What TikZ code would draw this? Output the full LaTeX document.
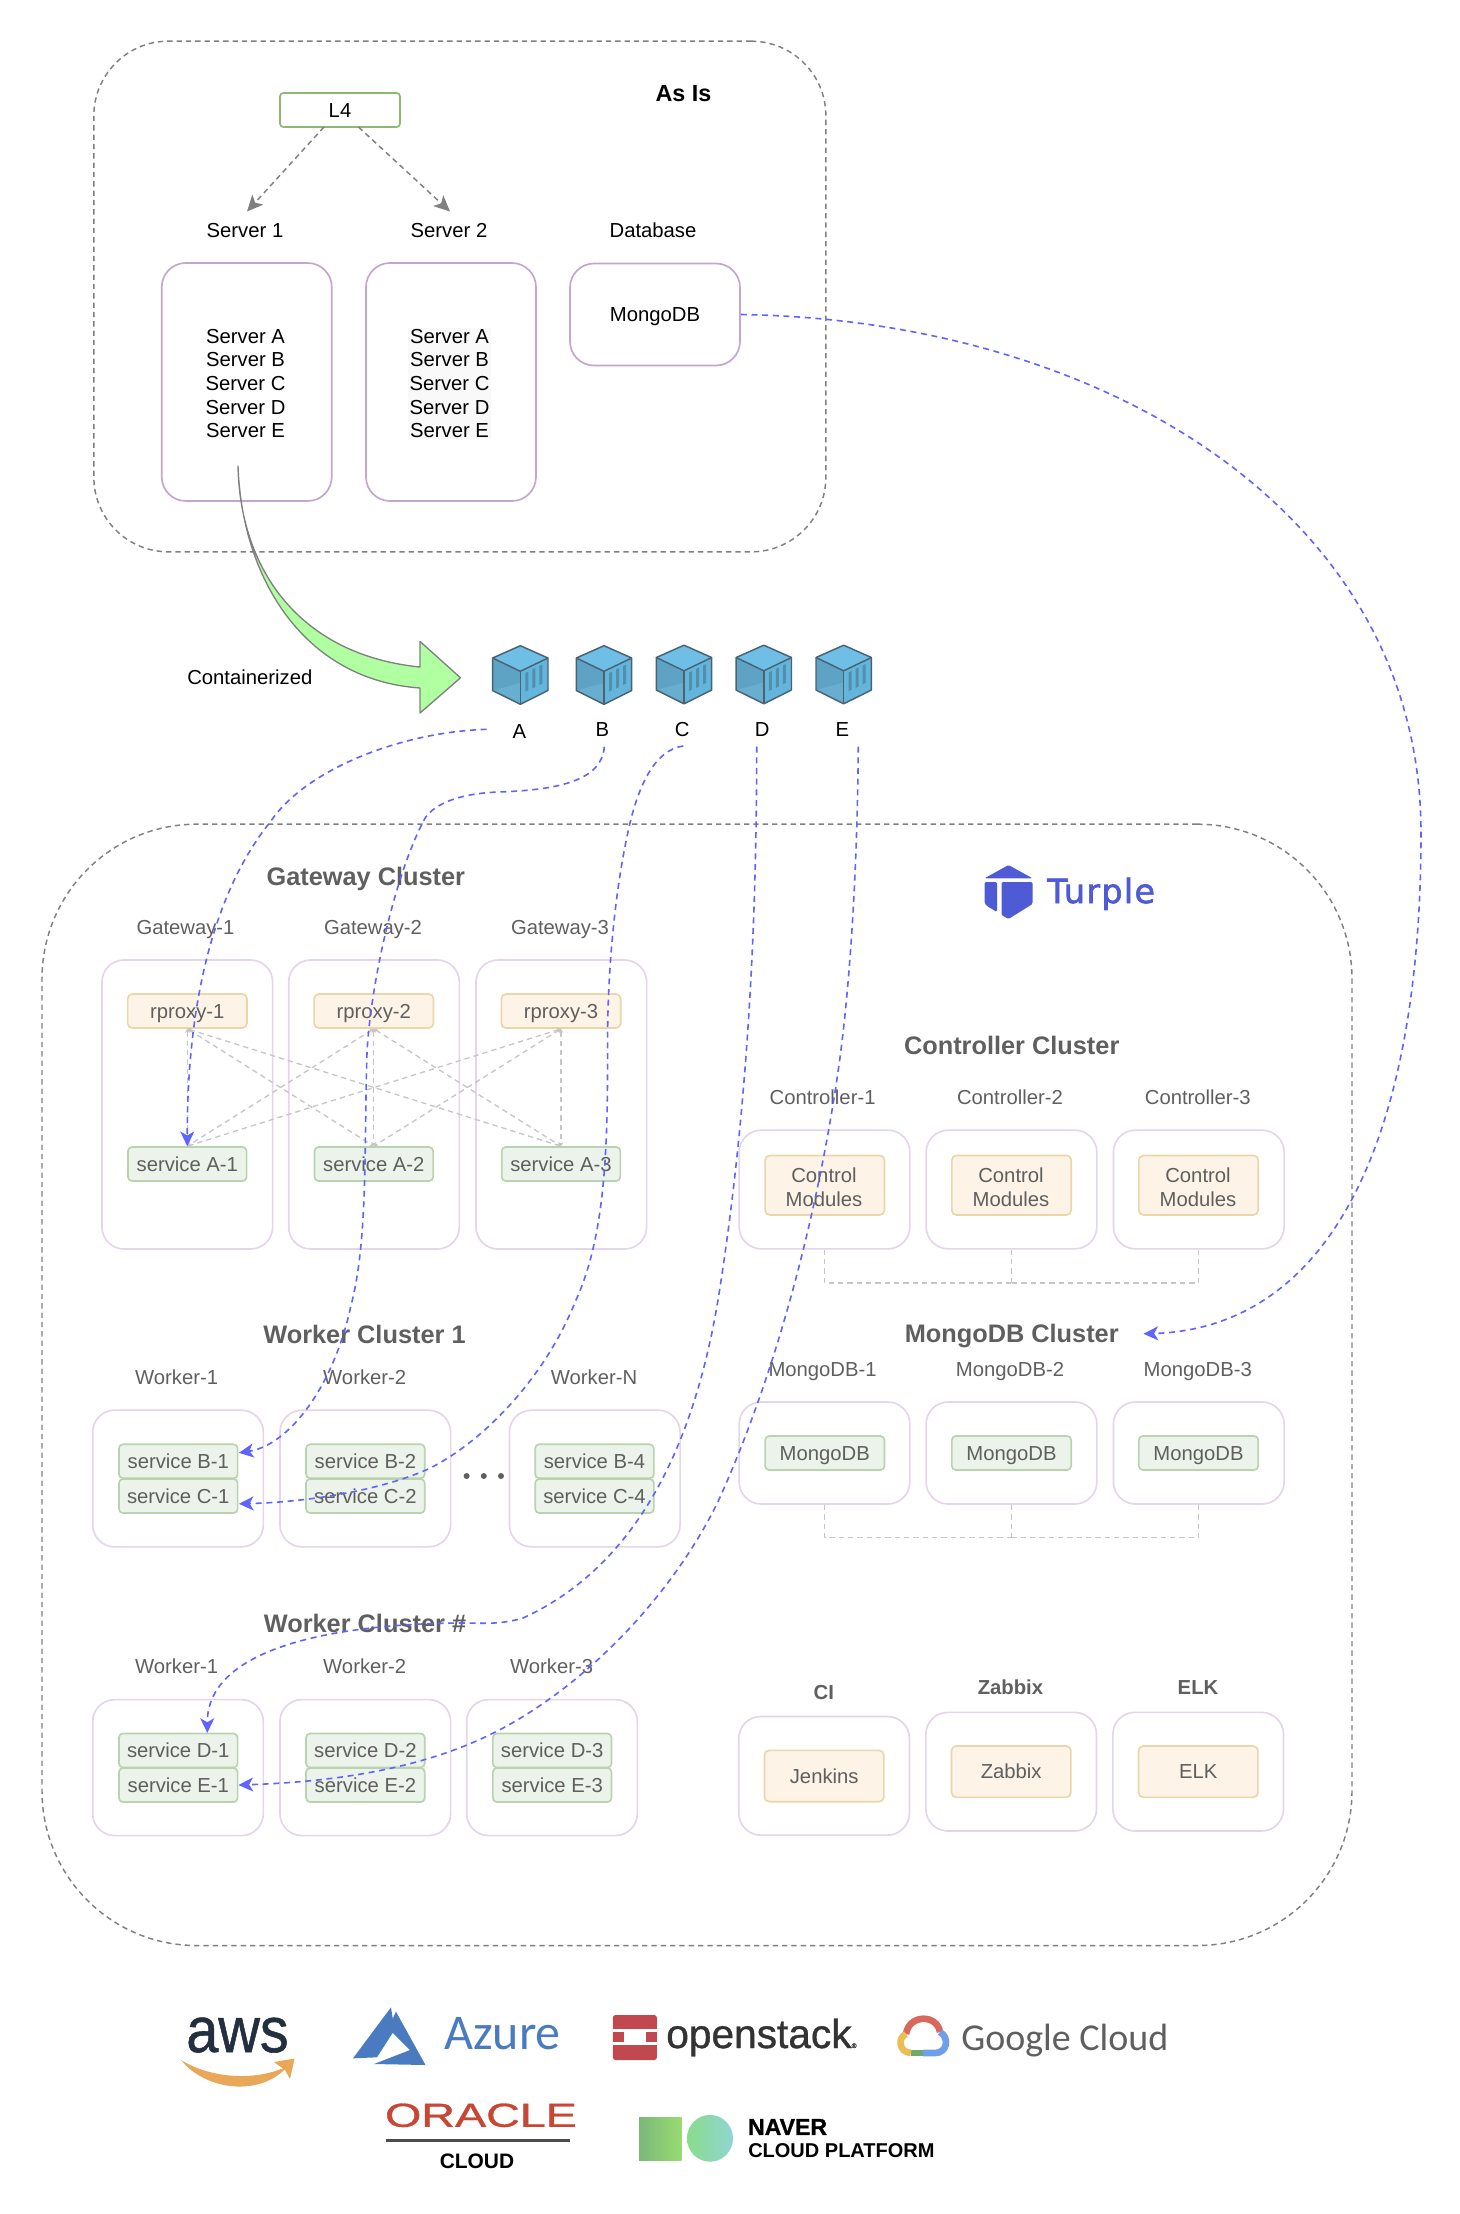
\documentclass[tikz,border=0pt]{standalone}
\usepackage{fontspec}
\usepackage{graphicx}
\setmainfont{Liberation Sans}
\newfontfamily\cloudfont{Carlito}
\newfontfamily\turplefont[FakeBold=2,LetterSpace=4]{DejaVu Sans}
\newfontfamily\heavyfont[FakeBold=0.9]{Liberation Sans}
\newfontfamily\blackfont[FakeBold=1.2]{Liberation Sans Bold}
\usetikzlibrary{arrows.meta}
\definecolor{captionGray}{HTML}{5F5F5F}
\definecolor{frameGray}{HTML}{808080}
\definecolor{meshGray}{HTML}{C6C6C6}
\definecolor{linkBlue}{HTML}{5F63FF}
\definecolor{logoBlue}{HTML}{4F5BD5}
\definecolor{azureBlue}{HTML}{4A7BC0}
\definecolor{serverPurple}{HTML}{C3A5CF}
\definecolor{hostPurple}{HTML}{E4D5E8}
\definecolor{amberEdge}{HTML}{EAD6A8}
\definecolor{amberFill}{HTML}{FDF3E7}
\definecolor{mintEdge}{HTML}{BAD3AE}
\definecolor{mintFill}{HTML}{EBF3EA}
\definecolor{lbGreen}{HTML}{8DB870}
\definecolor{arrowGreen}{HTML}{B0FFA0}
\definecolor{cubeTop}{HTML}{6EBEE6}
\definecolor{cubeLeft}{HTML}{5FA3C4}
\definecolor{cubeShade}{HTML}{68AECF}
\definecolor{cubeRight}{HTML}{64B5DC}
\definecolor{cubeEdge}{HTML}{4A6272}
\definecolor{cubeSlot}{HTML}{5090AE}
\definecolor{awsInk}{HTML}{232F3E}
\definecolor{awsSmile}{HTML}{E8A858}
\definecolor{stackRed}{HTML}{C1484F}
\definecolor{oracleRed}{HTML}{C74634}
\definecolor{gRed}{HTML}{D9675B}
\definecolor{gBlue}{HTML}{6F9FEA}
\definecolor{gGreen}{HTML}{6FA86B}
\definecolor{gYellow}{HTML}{EBBD55}
\newcommand{\capsize}{\fontsize{15.2}{17.8}\selectfont}
\tikzset{
  oneLine/.style={text height=13.75pt,text depth=3.2pt,inner ysep=0pt},
  outerBox/.style={draw=frameGray,line width=1.1pt,dash pattern=on 4pt off 3pt,rounded corners=56pt},
  serverBox/.style={draw=serverPurple,line width=1.25pt,rounded corners=18pt,minimum width=127.5pt,font=\capsize,oneLine},
  hostBox/.style={draw=hostPurple,line width=1.25pt,rounded corners=16.5pt,minimum width=128pt},
  amberBox/.style={draw=amberEdge,fill=amberFill,line width=1.25pt,rounded corners=3.5pt,minimum width=89.5pt,font=\capsize,text=captionGray,oneLine},
  stackText/.style={font=\capsize,text=captionGray,align=center,inner sep=0pt},
  mintBox/.style={draw=mintEdge,fill=mintFill,line width=1.25pt,rounded corners=3pt,minimum width=89pt,minimum height=25.5pt,font=\capsize,text=captionGray,oneLine},
  captionText/.style={font=\capsize,text=captionGray,oneLine},
  blackText/.style={font=\capsize,oneLine},
  listText/.style={font=\capsize,align=center,inner sep=1pt},
  clusterTitle/.style={font=\fontsize{19}{22}\selectfont\bfseries,text=captionGray,text height=17.2pt,text depth=4pt,inner ysep=0pt},
  smallTitle/.style={font=\capsize\bfseries,text=captionGray,oneLine},
  blueLink/.style={draw=linkBlue,line width=1.2pt,dash pattern=on 4.5pt off 3.5pt,-{Stealth[length=11pt,width=10.5pt,inset=3pt]}},
  meshLink/.style={draw=meshGray,line width=1pt,dash pattern=on 4pt off 3pt,{Stealth[length=3pt,width=3.5pt]}-{Stealth[length=3pt,width=3.5pt]}},
  busLink/.style={draw=meshGray,line width=1.1pt,dash pattern=on 4pt off 3pt},
  lbLink/.style={draw=frameGray,line width=1.1pt,dash pattern=on 4pt off 3pt,-{Stealth[length=12pt,width=11pt,inset=3pt]}},
  cube/.pic={
    \begin{scope}[yscale=-1]
    \fill[cubeTop] (0,-29.3) -- (27.7,-17) -- (0,-3.7) -- (-27.7,-17) -- cycle;
    \fill[cubeLeft] (-27.7,-17) -- (0,-3.7) -- (0,29.3) -- (-27.7,15.5) -- cycle;
    \fill[cubeShade] (0,8) -- (0,29.3) -- (-27.7,15.5) -- cycle;
    \fill[cubeRight] (0,-3.7) -- (27.7,-17) -- (27.7,15.5) -- (0,29.3) -- cycle;
    \draw[line width=1.1pt,draw=cubeEdge,line join=round] (0,-29.3) -- (27.7,-17) -- (27.7,15.5) -- (0,29.3) -- (-27.7,15.5) -- (-27.7,-17) -- cycle;
    \draw[line width=1.1pt,draw=cubeEdge,line join=round] (-27.7,-17) -- (0,-3.7) -- (27.7,-17);
    \draw[line width=1.1pt,draw=cubeEdge] (0,-3.7) -- (0,29.3);
    \fill[cubeSlot] (5,-2) -- (8,-3.5) -- (8,15) -- (5,16.5) -- cycle;
    \fill[cubeSlot] (12,-5.5) -- (15,-7) -- (15,12) -- (12,13.5) -- cycle;
    \fill[cubeSlot] (19,-9) -- (22,-10.5) -- (22,8.5) -- (19,10) -- cycle;
    \end{scope}
  }
}
\begin{document}
\begin{tikzpicture}[x=0.75pt,y=0.75pt,yscale=-1,xscale=1]
\useasboundingbox (0,0) rectangle (1460,2214);

% As Is region
\node[outerBox,minimum width=549pt,minimum height=383pt] (asIsRegion) at (459.85,296.5) {};
\node[font=\fontsize{17.5}{20}\selectfont\bfseries] (asIsTitle) at (683.5,94) {As Is};
\node[draw=lbGreen,line width=1.25pt,rounded corners=2.5pt,minimum width=90pt,minimum height=25.5pt,font=\capsize,oneLine] (loadBalancer) at (340,110) {L4};
\node[blackText] (server1Label) at (245,230.5) {Server 1};
\node[blackText] (server2Label) at (449,230.5) {Server 2};
\node[blackText] (dbLabel) at (653,230.5) {Database};
\node[serverBox,minimum height=178.5pt] (server1Box) at (246.75,382) {};
\node[listText] (server1Text) at (245.5,383.5) {Server A\\Server B\\Server C\\Server D\\Server E};
\node[serverBox,minimum height=178.5pt] (server2Box) at (451,382) {};
\node[listText,fill=gray!5!white] (server2Text) at (449.5,383.5) {Server A\\Server B\\Server C\\Server D\\Server E};
\node[serverBox,minimum height=76.5pt] (dbBox) at (655,314.5) {MongoDB};
\coordinate (toServer1) at (247,211.5);
\coordinate (toServer2) at (450,211.5);
\draw[lbLink] (324,127) -- (toServer1);
\draw[lbLink] (358.5,127) -- (toServer2);

% Containerized arrow
\draw[draw=frameGray,fill=arrowGreen,line width=1pt,line join=round] (238,466) .. controls (240,570) and (300,655) .. (420,667) -- (420,641.4) -- (460.5,677.8) -- (420,713) -- (420,688) .. controls (305,680) and (242,580) .. (238,466) -- cycle;
\node[blackText] (containerizedText) at (249.8,677) {Containerized};

% Containers
\pic (cubeA) at (520.3,675) {cube};
\pic (cubeB) at (604,675) {cube};
\pic (cubeC) at (684,674.5) {cube};
\pic (cubeD) at (763.8,674.5) {cube};
\pic (cubeE) at (843.7,674.5) {cube};
\node[blackText] (labelA) at (519.3,731) {A};
\node[blackText] (labelB) at (602.3,729) {B};
\node[blackText] (labelC) at (682.3,729) {C};
\node[blackText] (labelD) at (762.3,729) {D};
\node[blackText] (labelE) at (842.3,729) {E};
\coordinate (fromA) at (486.7,729.3);
\coordinate (fromB) at (604.3,746.7);
\coordinate (fromC) at (683.3,746);
\coordinate (fromD) at (756.7,746.7);
\coordinate (fromE) at (858.3,746.7);

% Turple region
\node[outerBox,rounded corners=116pt,minimum width=982.5pt,minimum height=841pt] (turpleRegion) at (697,1384.85) {};
\fill[logoBlue,rounded corners=1pt] (1008.5,865) -- (1032.5,878.3) -- (984.5,878.3) -- cycle;
\fill[logoBlue,rounded corners=1pt] (984.5,882) -- (997,882) -- (997,912) -- (987,906) -- (984.5,903) -- cycle;
\fill[logoBlue,rounded corners=1pt] (1001.5,882) -- (1032.5,882) -- (1032.5,904) -- (1008.5,919) -- (1001.5,915) -- cycle;
\node[font=\fontsize{25}{28}\turplefont,text=logoBlue,anchor=base west,inner sep=0pt] (turpleName) at (1047,903) {Turple};

% Gateway Cluster
\node[clusterTitle] (gatewayTitle) at (365.8,876.5) {Gateway Cluster};
\node[captionText] (gateway1Label) at (185.5,927) {Gateway-1};
\node[captionText] (gateway2Label) at (373,927) {Gateway-2};
\node[captionText] (gateway3Label) at (560,927) {Gateway-3};
\node[hostBox,minimum height=216.75pt] (gateway1) at (187.3,1104.5) {};
\node[hostBox,minimum height=216.75pt] (gateway2) at (374,1104.5) {};
\node[hostBox,minimum height=216.75pt] (gateway3) at (561.3,1104.5) {};
\node[amberBox,minimum height=25.5pt] (rproxy1) at (187.3,1011) {rproxy-1};
\node[amberBox,minimum height=25.5pt] (rproxy2) at (373.8,1011) {rproxy-2};
\node[amberBox,minimum height=25.5pt] (rproxy3) at (561,1011) {rproxy-3};
\node[mintBox] (svcA1) at (187.3,1164) {service A-1};
\node[mintBox] (svcA2) at (373.8,1164) {service A-2};
\node[mintBox] (svcA3) at (561,1164) {service A-3};
\draw[meshLink] (rproxy1.south) -- (svcA1.north);
\draw[meshLink] (rproxy1.south) -- (svcA2.north);
\draw[meshLink] (rproxy1.south) -- (svcA3.north);
\draw[meshLink] (rproxy2.south) -- (svcA1.north);
\draw[meshLink] (rproxy2.south) -- (svcA2.north);
\draw[meshLink] (rproxy2.south) -- (svcA3.north);
\draw[meshLink] (rproxy3.south) -- (svcA1.north);
\draw[meshLink] (rproxy3.south) -- (svcA2.north);
\draw[meshLink] (rproxy3.south) -- (svcA3.north);

% Controller Cluster
\node[clusterTitle] (controllerTitle) at (1011.7,1045.4) {Controller Cluster};
\node[captionText] (controller1Label) at (822.6,1097) {Controller-1};
\node[captionText] (controller2Label) at (1010,1097) {Controller-2};
\node[captionText] (controller3Label) at (1197.8,1097) {Controller-3};
\node[hostBox,minimum height=89pt] (controller1) at (824.5,1189.5) {};
\node[hostBox,minimum height=89pt] (controller2) at (1011.5,1189.5) {};
\node[hostBox,minimum height=89pt] (controller3) at (1198.75,1189.5) {};
\node[amberBox,minimum height=44.7pt] (control1) at (824.8,1185.2) {};
\node[amberBox,minimum height=44.7pt] (control2) at (1011.5,1185.2) {};
\node[amberBox,minimum height=44.7pt] (control3) at (1198.5,1185.2) {};
\node[stackText] (control1Text) at (824,1187) {Control\\Modules};
\node[stackText] (control2Text) at (1011,1187) {Control\\Modules};
\node[stackText] (control3Text) at (1198,1187) {Control\\Modules};
\coordinate (controllerBus) at (1011.5,1283);
\draw[busLink] (controller1.south) |- (controllerBus);
\draw[busLink] (controller3.south) |- (controllerBus);
\draw[busLink] (controller2.south) -- (controllerBus);

% MongoDB Cluster
\node[clusterTitle] (mongoTitle) at (1011.7,1334) {MongoDB Cluster};
\node[captionText] (mongo1Label) at (822.6,1369) {MongoDB-1};
\node[captionText] (mongo2Label) at (1010,1369) {MongoDB-2};
\node[captionText] (mongo3Label) at (1197.8,1369) {MongoDB-3};
\node[hostBox,minimum height=76.5pt] (mongo1) at (824.5,1453) {};
\node[hostBox,minimum height=76.5pt] (mongo2) at (1011.5,1453) {};
\node[hostBox,minimum height=76.5pt] (mongo3) at (1198.75,1453) {};
\node[mintBox,minimum width=89.5pt] (mongoDb1) at (824.8,1453) {MongoDB};
\node[mintBox,minimum width=89.5pt] (mongoDb2) at (1011.5,1453) {MongoDB};
\node[mintBox,minimum width=89.5pt] (mongoDb3) at (1198.5,1453) {MongoDB};
\coordinate (mongoBus) at (1011.5,1537.4);
\draw[busLink] (mongo1.south) |- (mongoBus);
\draw[busLink] (mongo3.south) |- (mongoBus);
\draw[busLink] (mongo2.south) -- (mongoBus);

% Worker Cluster 1
\node[clusterTitle] (worker1Title) at (364.5,1334.4) {Worker Cluster 1};
\node[captionText] (w1Label1) at (176.6,1377) {Worker-1};
\node[captionText] (w1Label2) at (364.7,1377) {Worker-2};
\node[captionText] (w1LabelN) at (594,1377) {Worker-N};
\node[hostBox,minimum height=102.5pt] (w1Host1) at (178,1478.5) {};
\node[hostBox,minimum height=102.5pt] (w1Host2) at (365.3,1478.5) {};
\node[hostBox,minimum height=102.5pt] (w1HostN) at (594.75,1478.5) {};
\node[mintBox] (svcB1) at (178.3,1461.3) {service B-1};
\node[mintBox] (svcC1) at (178.3,1496) {service C-1};
\node[mintBox] (svcB2) at (365.4,1461.3) {service B-2};
\node[mintBox] (svcC2) at (365.4,1496) {service C-2};
\node[mintBox] (svcB4) at (594.5,1461.3) {service B-4};
\node[mintBox] (svcC4) at (594.5,1496) {service C-4};
\fill[captionGray] (466.6,1476) circle (3);
\fill[captionGray] (483.8,1476) circle (3);
\fill[captionGray] (501,1476) circle (3);

% Worker Cluster #
\node[clusterTitle] (workerNTitle) at (365,1623.3) {Worker Cluster \#};
\node[captionText] (wnLabel1) at (176.6,1666.5) {Worker-1};
\node[captionText] (wnLabel2) at (364.7,1666.5) {Worker-2};
\node[captionText] (wnLabel3) at (551.6,1666.5) {Worker-3};
\node[hostBox,minimum height=102pt] (wnHost1) at (178,1767.6) {};
\node[hostBox,minimum height=102pt] (wnHost2) at (365.3,1767.6) {};
\node[hostBox,minimum height=102pt] (wnHost3) at (552,1767.6) {};
\node[mintBox] (svcD1) at (178.3,1750.5) {service D-1};
\node[mintBox] (svcE1) at (178.3,1785) {service E-1};
\node[mintBox] (svcD2) at (365.4,1750.5) {service D-2};
\node[mintBox] (svcE2) at (365.4,1785) {service E-2};
\node[mintBox] (svcD3) at (552.2,1750.5) {service D-3};
\node[mintBox] (svcE3) at (552.2,1785) {service E-3};

% CI, Zabbix, ELK
\node[smallTitle] (ciTitle) at (823.8,1692.3) {CI};
\node[smallTitle] (zabbixTitle) at (1010.4,1687.3) {Zabbix};
\node[smallTitle] (elkTitle) at (1198,1687.3) {ELK};
\node[hostBox,minimum height=89pt] (ciHost) at (824.1,1775.8) {};
\node[hostBox,minimum height=89pt] (zabbixHost) at (1011.2,1771.65) {};
\node[hostBox,minimum height=89pt] (elkHost) at (1198.2,1771.65) {};
\node[amberBox,minimum height=38.5pt] (jenkinsBox) at (824.2,1776) {Jenkins};
\node[amberBox,minimum height=38.5pt] (zabbixBox) at (1011.2,1771.65) {Zabbix};
\node[amberBox,minimum height=38.5pt] (elkBox) at (1198.2,1771.65) {ELK};

% Deployments
\coordinate (toB) at (238.9,1452.8);
\coordinate (toC) at (238.9,1503.8);
\coordinate (toD) at (207.3,1732.9);
\coordinate (toMongo) at (1143.5,1333.8);
\draw[blueLink] (fromA) .. controls (400,732) and (305,770) .. (270.5,821.7) .. controls (215,890) and (187,1000) .. (svcA1.north);
\draw[blueLink] (fromB) .. controls (602,780) and (560,790) .. (498,792) .. controls (448,794) and (428,810) .. (423.2,821.7) .. controls (393,880) and (370,990) .. (367,1053) .. controls (364,1150) and (368,1240) .. (351,1305.5) .. controls (334,1385) and (290,1445) .. (toB);
\draw[blueLink] (fromC) .. controls (653,750) and (638,790) .. (630,823) .. controls (612,900) and (607.6,990) .. (607.6,1037) .. controls (607.6,1130) and (608,1230) .. (576,1300) .. controls (540,1390) and (470,1450) .. (426,1470) .. controls (380,1490) and (310,1502) .. (toC);
\draw[blueLink] (fromD) .. controls (756.7,900) and (750,1100) .. (718,1300) .. controls (698,1420) and (650,1560) .. (523,1618) .. controls (500,1625) and (480,1623) .. (464,1623) .. controls (400,1623) and (207,1630) .. (toD);
\draw[blueLink] (fromE) .. controls (857,900) and (847,1010) .. (838,1072) .. controls (818,1210) and (778,1370) .. (718,1501.6) .. controls (670,1600) and (580,1690) .. (493.5,1732.9) .. controls (420,1770) and (330,1782) .. (svcE1.east);
\draw[blueLink] (dbBox.east) .. controls (1100,320) and (1421,510) .. (1421,833) .. controls (1421,1140) and (1330,1328) .. (toMongo);

% Cloud logos
\node[font=\fontsize{48}{50}\heavyfont,text=awsInk,inner sep=0pt,anchor=base] (awsName) at (237.5,2052) {\scalebox{0.9}[1]{aws}};
\fill[awsSmile] (181,2060) .. controls (205,2090) and (260,2098) .. (288,2066) .. controls (255,2082) and (210,2078) .. (181,2060) -- cycle;
\fill[awsSmile] (274,2062) -- (294.6,2058.5) -- (290,2079) -- (285,2070) -- cycle;
\fill[azureBlue] (391,2007.3) -- (353,2058.3) -- (377,2057.3) -- (394.5,2030) -- cycle;
\fill[azureBlue] (396,2011.7) -- (425.5,2065) -- (374,2064) -- (410,2050) -- (388,2028) -- cycle;
\node[font=\fontsize{37.5}{40}\cloudfont,text=azureBlue,inner sep=0pt] (azureName) at (502.5,2034) {Azure};
\fill[stackRed,rounded corners=2pt] (612.8,2015) rectangle (656.9,2060);
\fill[white] (612.8,2029) rectangle (656.9,2032);
\fill[white] (612.8,2042) rectangle (656.9,2045);
\fill[white] (624,2032) rectangle (645.5,2042);
\node[font=\fontsize{30.5}{34}\heavyfont,text=black!80!white,inner sep=0pt,anchor=base west] (openstackName) at (666,2048) {openstack{\fontsize{5}{5}\selectfont ®}};
\draw[line width=5pt,draw=gRed] (906,2034) .. controls (909,2014) and (937,2014) .. (940,2032);
\draw[line width=5pt,draw=gBlue] (940,2032) .. controls (950,2038) and (947,2053) .. (935,2053) -- (923,2053);
\draw[line width=5pt,draw=gGreen] (923,2053) -- (911,2053);
\draw[line width=5pt,draw=gYellow] (911,2053) .. controls (898,2052) and (898,2037) .. (906,2034);
\node[font=\fontsize{28.5}{33}\cloudfont,text=captionGray,inner sep=0pt,anchor=base west] (googleName) at (961,2050) {Google Cloud};
\node[font=\fontsize{25}{28}\heavyfont,text=oracleRed,inner sep=0pt] (oracleName) at (481,2115.3) {\scalebox{1.4}[1]{ORACLE}};
\draw[line width=1.8pt,draw=black!70!white] (385.5,2140.3) -- (570,2140.3);
\node[font=\fontsize{15.7}{18}\selectfont\bfseries,inner sep=0pt] (oracleCloud) at (477,2161.7) {CLOUD};
\shade[left color=green!30!gray!80!white,right color=green!50!lime!60!gray!70!white] (639,2117.3) rectangle (681.7,2160);
\shade[left color=green!55!gray!60!white,right color=cyan!45!gray!60!white] (710,2138.3) ellipse (23 and 23.4);
\node[font=\fontsize{17.3}{18}\blackfont,inner sep=0pt,anchor=west] (naverName) at (747.8,2127) {NAVER};
\node[font=\fontsize{15}{18}\selectfont\bfseries,inner sep=0pt,anchor=west] (naverPlatform) at (748,2150.3) {CLOUD PLATFORM};
\end{tikzpicture}
\end{document}
